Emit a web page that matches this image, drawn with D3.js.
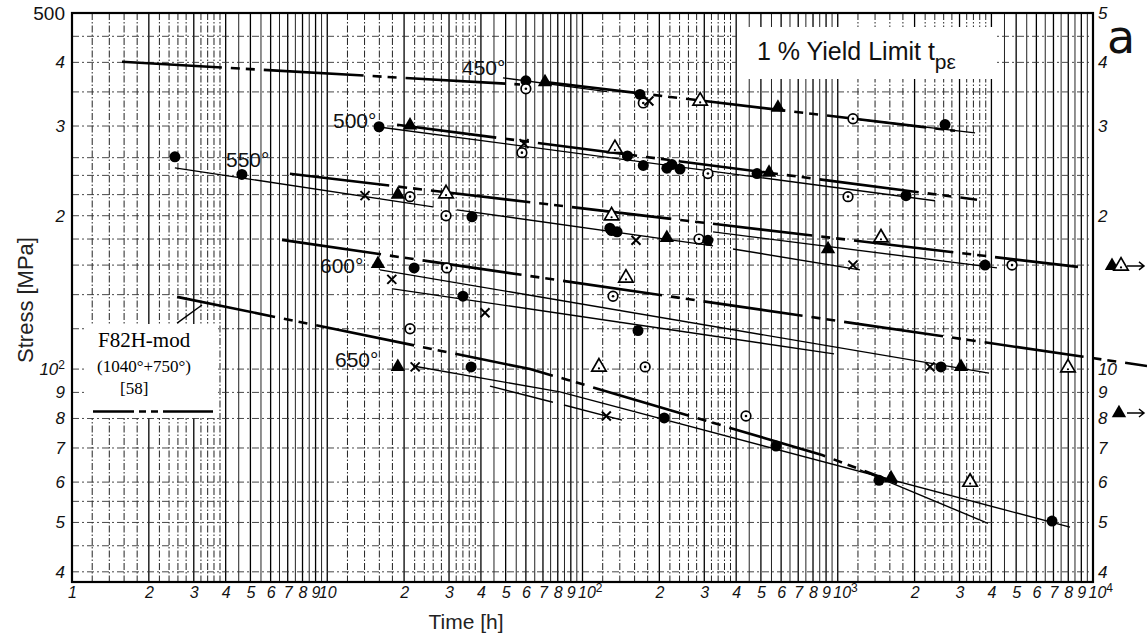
<!DOCTYPE html>
<html><head><meta charset="utf-8">
<script src="https://cdn.jsdelivr.net/npm/d3@7"></script>
<style>body{margin:0;background:#fff}</style>
</head><body>
<svg id="c" width="1147" height="636"></svg>
<script>
// ---------------- data (time h, stress MPa) ----------------
const xTickValues = [1,2,3,4,5,6,7,8,9,10,20,30,40,50,60,70,80,90,100,200,300,400,500,600,700,800,900,1000,2000,3000,4000,5000,6000,7000,8000,9000,10000];
const xTickLabels = ["1","2","3","4","5","6","7","8","9","10","2","3","4","5","6","7","8","9","10|2","2","3","4","5","6","7","8","9","10|3","2","3","4","5","6","7","8","9","10|4"];
const yTickValues = [500,400,300,200,100,90,80,70,60,50,40];
const yLeftLabels  = ["500","4","3","2","10|2","9","8","7","6","5","4"];
const yRightLabels = ["5","4","3","2","10","9","8","7","6","5","4"];

// F82H-mod reference curves (thick dash-dot)
const refTop = [[1.57,401],[56.9,362]];
const ref450 = [[71.3,366],[2880,293.6]];
const ref500 = [[18.77,301.7],[3513,215]];
const ref550 = [[7.14,241.7],[8735,158.7]];
const ref600 = [[6.65,179.3],[16280,101.4]];
const ref650 = [[2.58,138.6],[62.3,100],[87.7,95.2],[868,67.8],[1707,59.7]];

// thin fitted lines
const fit450 = [[[48.8,373],[124.7,350.4]], [[1222,309],[3450,290.9]]];
const fit500 = [[[15.66,299],[2404,214]]];
const fit550 = [[[2.53,248.3],[25.96,208.2]], [[32.2,205.4],[324.6,174.5]], [[324.6,185.9],[4206,158]], [[388.7,172.1],[1222,156.6]]];
const fit600 = [[[16.09,156.6],[3913,98.2]], [[18.1,143.7],[967,107.1]]];
const fit650 = [[[21.7,101.4],[81.6,90.2]], [[43.4,92.6],[76.6,86.1]], [[84.6,85.0],[142.8,79.4]], [[81.6,90.2],[8126,48.95]], [[1222,63.4],[3878,49.8]]];

// measured points: [time, stress, symbol]  fc=filled circle, oc=open circle, ft=filled triangle, ot=open triangle, x=cross
const pts450 = [[60,368,"fc"],[60,355,"oc"],[71.3,366,"ft"],[168,346,"fc"],[173,333,"oc"],[182,336,"x"],[289,336,"ot"],[583,326,"ft"],[1147,310,"oc"],[2632,302,"fc"]];
const pts500 = [[15.95,299,"fc"],[21.1,301,"ft"],[59,277,"x"],[57.9,266,"oc"],[134,271,"ot"],[150,262,"fc"],[173,251,"fc"],[214,248,"fc"],[224,252,"fc"],[241,247,"fc"],[310,242,"oc"],[483,242,"fc"],[538,243,"ft"],[1097,218,"oc"],[1851,219,"fc"]];
const pts550 = [[2.53,261,"fc"],[4.63,241,"fc"],[14.06,219,"x"],[18.9,220,"ft"],[21.1,218,"oc"],[29.2,221,"ot"],[29.2,200,"oc"],[36.9,199,"fc"],[130,200,"ot"],[128,189,"fc"],[130,187,"fc"],[136.6,186,"fc"],[162,179,"x"],[214,181,"ft"],[286,180,"oc"],[310,179,"fc"],[916,172,"ft"],[1477,181,"ot"],[1147,160,"x"],[3776,160,"fc"],[4817,160,"oc"]];
const pts600 = [[15.8,161,"ft"],[21.9,158,"fc"],[29.4,158,"oc"],[17.9,150,"x"],[34,139,"fc"],[41.5,129,"x"],[21.1,120,"oc"],[148,151,"ot"],[131.7,139,"oc"],[165,119,"fc"],[2298,101,"x"],[2538,101,"fc"],[3040,101,"ft"],[7980,100.6,"ot"]];
const pts650 = [[18.9,101,"ft"],[22.1,101,"x"],[36.6,101,"fc"],[116,101,"ot"],[176,101,"oc"],[124,80.9,"x"],[209,80.2,"fc"],[437,80.9,"oc"],[573,70.6,"fc"],[1451,60.5,"fc"],[1617,61.1,"ft"],[3300,60,"ot"],[6910,50.3,"fc"]];
// run-outs (beyond 10^4 h)
const runouts = [[11870,159.4,"ft"],[12875,159.4,"ot"],[12640,82,"ft"]];
const runArrows = [[13590,15840,159.4],[13590,15840,82]];
// legend pointer
const pointer = [[2.58,123.1],[3.23,133.6]];

const tempLabels = [["450°",462,75],["500°",333,128],["550°",226,167],["600°",320,273],["650°",335,367]];

// ---------------- scales ----------------
const svg = d3.select("#c");
const x = d3.scaleLog().domain([1,1e4]).range([72,1093]);
const y = d3.scaleLog().domain([38.2,500]).range([582,13]);
const line = d3.line().x(d=>x(d[0])).y(d=>y(d[1]));

// ---------------- grid ----------------
const gridMant = [1,1.2,1.4,1.6,1.8,2,2.2,2.4,2.6,2.8,3,3.2,3.4,3.6,3.8,4,4.5,5,5.5,6,6.5,7,7.5,8,8.5,9,9.5];
const vg = [];
for (let d=0; d<4; d++) for (const m of gridMant) vg.push({v:m*Math.pow(10,d), m});
const gGrid = svg.append("g");
gGrid.selectAll("line.v").data(vg).join("line")
  .attr("x1",d=>x(d.v)).attr("x2",d=>x(d.v)).attr("y1",13).attr("y2",582)
  .attr("stroke", d=>Number.isInteger(d.m)?"#000":"#222")
  .attr("stroke-width", d=>Number.isInteger(d.m)?1.3:1)
  .attr("stroke-dasharray", d=>Number.isInteger(d.m)||(d.m*10)%10===5?null:"7,2,1.5,2");
const hg = [450,400,350,300,260,240,220,200,180,160,140,120,100,90,80,70,60,55,50,45,40];
gGrid.selectAll("line.h").data(hg).join("line")
  .attr("x1",72).attr("x2",1093).attr("y1",d=>y(d)).attr("y2",d=>y(d))
  .attr("stroke","#333").attr("stroke-width",0.9).attr("stroke-dasharray","7,3,2,3");

// frame
svg.append("rect").attr("x",x(1)).attr("y",y(500)).attr("width",x(1e4)-x(1)).attr("height",y(38.2)-y(500))
  .attr("fill","none").attr("stroke","#000").attr("stroke-width",2.2);

// white boxes (legend / title)
svg.append("rect").attr("x",84).attr("y",324).attr("width",134).attr("height",94).attr("fill","#fff");
svg.append("rect").attr("x",737).attr("y",27).attr("width",258).attr("height",52).attr("fill","#fff");

// ---------------- axes ----------------
const fs = "'Liberation Sans', Arial, sans-serif";
function powLabel(sel, labels, anchorShift){
  sel.each(function(d,i){
    const lab = labels[i];
    const t = d3.select(this);
    if (lab.includes("|")) {
      const [b,e] = lab.split("|");
      t.text(b);
      if (anchorShift!==null) t.attr("text-anchor","start").attr("x",anchorShift);
      t.append("tspan").attr("dy","-0.5em").attr("font-size",12).attr("font-style","normal").text(e);
    } else t.text(lab);
  });
}
const xAxis = svg.append("g").attr("transform","translate(0,582)")
  .call(d3.axisBottom(x).tickValues(xTickValues).tickSize(0).tickPadding(5).tickFormat((d,i)=>xTickLabels[i]));
xAxis.select(".domain").remove();
xAxis.selectAll("text").attr("font-family",fs).attr("font-style","italic").attr("font-size",16).attr("fill","#111");
powLabel(xAxis.selectAll("text"), xTickLabels, -5);

const yL = svg.append("g").attr("transform","translate(72,0)")
  .call(d3.axisLeft(y).tickValues(yTickValues).tickSize(0).tickPadding(7).tickFormat((d,i)=>yLeftLabels[i]));
yL.select(".domain").remove();
yL.selectAll("text").attr("font-family",fs).attr("fill","#111")
  .attr("font-style",(d,i)=>i===0?"normal":"italic").attr("font-size",(d,i)=>i===0?19:17);
powLabel(yL.selectAll("text"), yLeftLabels, null);

const yR = svg.append("g").attr("transform","translate(1093,0)")
  .call(d3.axisRight(y).tickValues(yTickValues).tickSize(0).tickPadding(5).tickFormat((d,i)=>yRightLabels[i]));
yR.select(".domain").remove();
yR.selectAll("text").attr("font-family",fs).attr("font-style","italic").attr("font-size",17).attr("fill","#111");

// axis titles
svg.append("text").attr("transform","translate(33,300) rotate(-90)").attr("text-anchor","middle")
  .attr("font-family",fs).attr("font-size",22).attr("fill","#222").text("Stress [MPa]");
svg.append("text").attr("x",466).attr("y",629).attr("text-anchor","middle")
  .attr("font-family",fs).attr("font-size",21).attr("fill","#222").text("Time [h]");

// ---------------- lines ----------------
const gL = svg.append("g").attr("fill","none").attr("stroke","#000");
[refTop,ref450,ref500,ref550,ref600,ref650].forEach(r=>{
  gL.append("path").attr("d",line(r)).attr("stroke-width",2.6).attr("stroke-dasharray","100,9,9,6,9,9");
});
[fit450,fit500,fit550,fit600,fit650].forEach(set=>set.forEach(seg=>{
  gL.append("path").attr("d",line(seg)).attr("stroke-width",1.4);
}));
gL.append("path").attr("d",line(pointer)).attr("stroke-width",1.4);

// ---------------- markers ----------------
const gM = svg.append("g");
const tri = d3.symbol().type(d3.symbolTriangle).size(90)();
function marker(t,s,type){
  const cx=x(t), cy=y(s);
  const g = gM.append("g").attr("transform",`translate(${cx},${cy})`);
  if (type==="fc") g.append("circle").attr("r",5.5).attr("fill","#000");
  else if (type==="oc") { g.append("circle").attr("r",4.8).attr("fill","#fff").attr("stroke","#000").attr("stroke-width",1.7);
    g.append("circle").attr("r",1.3).attr("fill","#000"); }
  else if (type==="ft") g.append("path").attr("d",tri).attr("fill","#000");
  else if (type==="ot") { g.append("path").attr("d",tri).attr("fill","#fff").attr("stroke","#000").attr("stroke-width",1.7);
    g.append("circle").attr("cy",1.5).attr("r",1.1).attr("fill","#000"); }
  else if (type==="x") g.append("path").attr("d","M-4.5,-4.5L4.5,4.5M-4.5,4.5L4.5,-4.5").attr("stroke","#000").attr("stroke-width",2);
}
[pts450,pts500,pts550,pts600,pts650,runouts].forEach(set=>set.forEach(p=>marker(p[0],p[1],p[2])));
runArrows.forEach(a=>{
  const yy=y(a[2]), x1=x(a[0]), x2=x(a[1]);
  gM.append("path").attr("d",`M${x1},${yy}L${x2},${yy}M${x2-5},${yy-4}L${x2},${yy}L${x2-5},${yy+4}`)
    .attr("fill","none").attr("stroke","#000").attr("stroke-width",1.5);
});

// ---------------- texts ----------------
svg.selectAll("text.temp").data(tempLabels).join("text")
  .attr("x",d=>d[1]).attr("y",d=>d[2]).attr("font-family",fs).attr("font-size",21).attr("fill","#111").text(d=>d[0]);

// legend
const serif = "'Liberation Serif', 'Times New Roman', serif";
svg.append("text").attr("x",98).attr("y",347).attr("font-family",serif).attr("font-size",21).text("F82H-mod");
svg.append("text").attr("x",97).attr("y",372).attr("font-family",serif).attr("font-size",17).text("(1040°+750°)");
svg.append("text").attr("x",120).attr("y",394).attr("font-family",serif).attr("font-size",17).text("[58]");
svg.append("path").attr("d","M93,411.5H213").attr("stroke","#000").attr("stroke-width",2.4).attr("stroke-dasharray","41,5,7,5,7,5,80");

// title
const tt = svg.append("text").attr("x",757).attr("y",60).attr("font-family",fs).attr("font-size",25).attr("fill","#111").text("1 % Yield Limit t");
tt.append("tspan").attr("dy",9).attr("font-size",21).text("pε");
svg.append("text").attr("x",1107).attr("y",53).attr("font-family","'DejaVu Sans', sans-serif").attr("font-size",46).attr("fill","#111").text("a");
</script>
</body></html>
